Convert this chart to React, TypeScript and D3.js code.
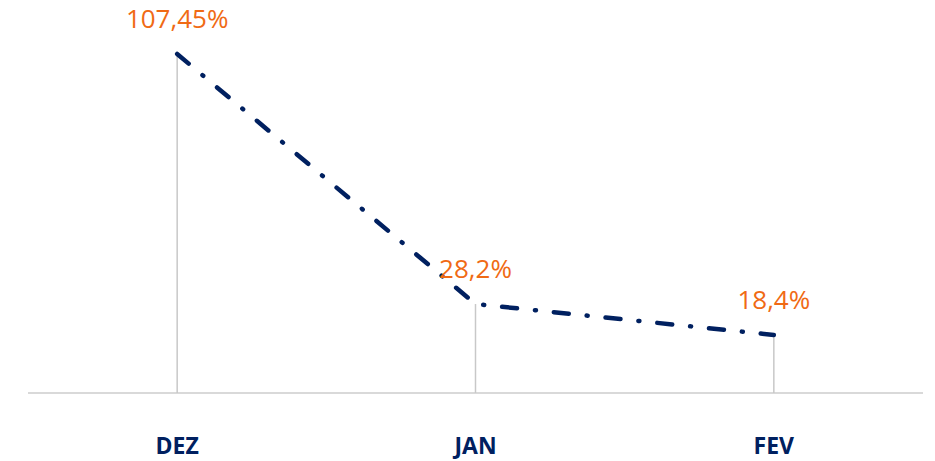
import React from "react";
import * as d3 from "d3";

const categories = ["DEZ", "JAN", "FEV"];
const values = [107.45, 28.2, 18.4];
const valueLabels = ["107,45%", "28,2%", "18,4%"];

const W = 935;
const H = 461;
const plotLeft = 28;
const plotRight = 923;
const baseY = 393;
const topY = 54;

export default function App() {
  const x = d3.scaleBand<string>().domain(categories).range([plotLeft, plotRight]).padding(0);
  const cx = (c: string) => (x(c) as number) + x.bandwidth() / 2;
  const y = d3.scaleLinear().domain([0, d3.max(values) as number]).range([baseY, topY]);
  const pts = categories.map((c, i) => ({ c, v: values[i], l: valueLabels[i] }));
  const line = d3
    .line<{ c: string; v: number }>()
    .x((d) => cx(d.c))
    .y((d) => y(d.v));

  return (
    <div style={{ position: "fixed", left: 0, top: 0, width: W, height: H, background: "#fff" }}>
      <svg width={W} height={H} style={{ display: "block" }}>
        <rect width={W} height={H} fill="#fff" />
        <line x1={plotLeft} x2={plotRight} y1={baseY} y2={baseY} stroke="#D9D9D9" strokeWidth={2} />
        {pts.map((p) => (
          <line
            key={"d" + p.c}
            x1={cx(p.c)}
            x2={cx(p.c)}
            y1={y(p.v)}
            y2={baseY}
            stroke="#C8C8C8"
            strokeWidth={1.5}
          />
        ))}
        <path
          d={line(pts) as string}
          fill="none"
          stroke="#002060"
          strokeWidth={4.5}
          strokeDasharray="15 18 1 18"
          strokeLinecap="round"
          strokeLinejoin="round"
        />
        {pts.map((p) => (
          <text
            key={"l" + p.c}
            x={cx(p.c)}
            y={y(p.v) - 26}
            textAnchor="middle"
            fill="#F06A14"
            fontFamily="'Open Sans', sans-serif"
            fontSize={26}
          >
            {p.l}
          </text>
        ))}
        {categories.map((c) => (
          <text
            key={"c" + c}
            x={cx(c)}
            y={454}
            textAnchor="middle"
            fill="#002060"
            fontFamily="'Open Sans', sans-serif"
            fontWeight="bold"
            fontSize={23}
          >
            {c}
          </text>
        ))}
      </svg>
    </div>
  );
}
